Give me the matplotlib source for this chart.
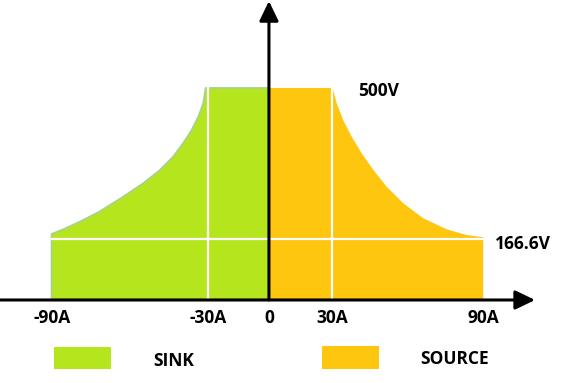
import numpy as np
import matplotlib
matplotlib.use('Agg')
import matplotlib.pyplot as plt
from matplotlib.patches import Rectangle

plt.rcParams['font.family'] = ['Open Sans', 'DejaVu Sans']

# values (current in A, voltage in V)
sink_curve_i = [-91.4, -86.5, -79.5, -71.3, -61.3, -52.9, -45.8, -40.3,
                -36.1, -32.5, -29.7, -27.6, -26.6]
sink_curve_v = [155.7, 166.7, 184.7, 208.3, 243.6, 275.2, 306.6, 338.0,
                369.6, 400.9, 432.3, 463.9, 500.0]
source_curve_i = [26.8, 28.5, 31.2, 34.8, 39.0, 43.9, 49.5, 56.5, 64.9,
                  74.7, 83.1, 90.1]
source_curve_v = [500.0, 463.9, 424.5, 385.1, 346.0, 306.6, 267.2, 228.1,
                  192.7, 166.7, 153.3, 147.9]
grid_i = [-25.7, 26.5]
grid_v = 143.9
grid_span = [-91.4, 90.1]
tick_pos = [-91.3, -25.7, 0, 26.5, 90.0]
tick_labels = ['-90A', '-30A', '0', '30A', '90A']
v_labels = ['500V', '166.6V']

green = '#b5e61d'
orange = '#fec60e'

fig = plt.figure(figsize=(5.65, 3.83), dpi=100)
ax = fig.add_axes([0, 0, 1, 1])
ax.set_xlim(-113.1, 124.5)
ax.set_ylim(-195.8, 707.5)
ax.set_axis_off()

# sink area
sx = [0, sink_curve_i[0]] + sink_curve_i + [0]
sy = [0, 0] + sink_curve_v + [sink_curve_v[-1]]
ax.fill(sx, sy, color=green, lw=0, zorder=1)
ax.plot([sink_curve_i[0], sink_curve_i[0]] + sink_curve_i + [0],
        [0, sink_curve_v[0]] + sink_curve_v + [sink_curve_v[-1]],
        color='#a9d08e', lw=1.3, zorder=2)

# source area
ox = [0, 0] + source_curve_i + [source_curve_i[-1]]
oy = [0, source_curve_v[0]] + source_curve_v + [0]
ax.fill(ox, oy, color=orange, lw=0, zorder=1)

# white grid lines
for gi in grid_i:
    ax.plot([gi, gi], [0, 500], color='white', lw=1.6, zorder=3)
ax.plot(grid_span, [grid_v, grid_v], color='white', lw=1.6, zorder=3)

# axes with arrows
ap = dict(arrowstyle='-|>,head_length=0.6,head_width=0.29', lw=2.2,
          color='black', shrinkA=0, shrinkB=0, mutation_scale=20)
ax.annotate('', xy=(111.9, 0), xytext=(-113.1, 0), arrowprops=ap, zorder=5)
ax.annotate('', xy=(0, 705), xytext=(0, 0), arrowprops=ap, zorder=5)

# tick labels
for p, t in zip(tick_pos, tick_labels):
    ax.text(p, -43, t, ha='center', va='center', fontsize=12.5,
            fontweight='bold', zorder=6)

ax.text(46.3, 493, v_labels[0], ha='center', va='center', fontsize=12.5,
        fontweight='bold')
ax.text(106.8, 132, v_labels[1], ha='center', va='center', fontsize=12.5,
        fontweight='bold')

# legend
ax.add_patch(Rectangle((54 / 565, 1 - 369 / 383), 57 / 565, 22 / 383,
                       transform=ax.transAxes, color=green, lw=0))
ax.add_patch(Rectangle((322 / 565, 1 - 369 / 383), 57 / 565, 23 / 383,
                       transform=ax.transAxes, color=orange, lw=0))
ax.text(174 / 565, 1 - 361 / 383, 'SINK', transform=ax.transAxes,
        ha='center', va='center', fontsize=12.5, fontweight='bold')
ax.text(455 / 565, 1 - 359 / 383, 'SOURCE', transform=ax.transAxes,
        ha='center', va='center', fontsize=12.5, fontweight='bold')

fig.savefig('out.png', dpi=100)
